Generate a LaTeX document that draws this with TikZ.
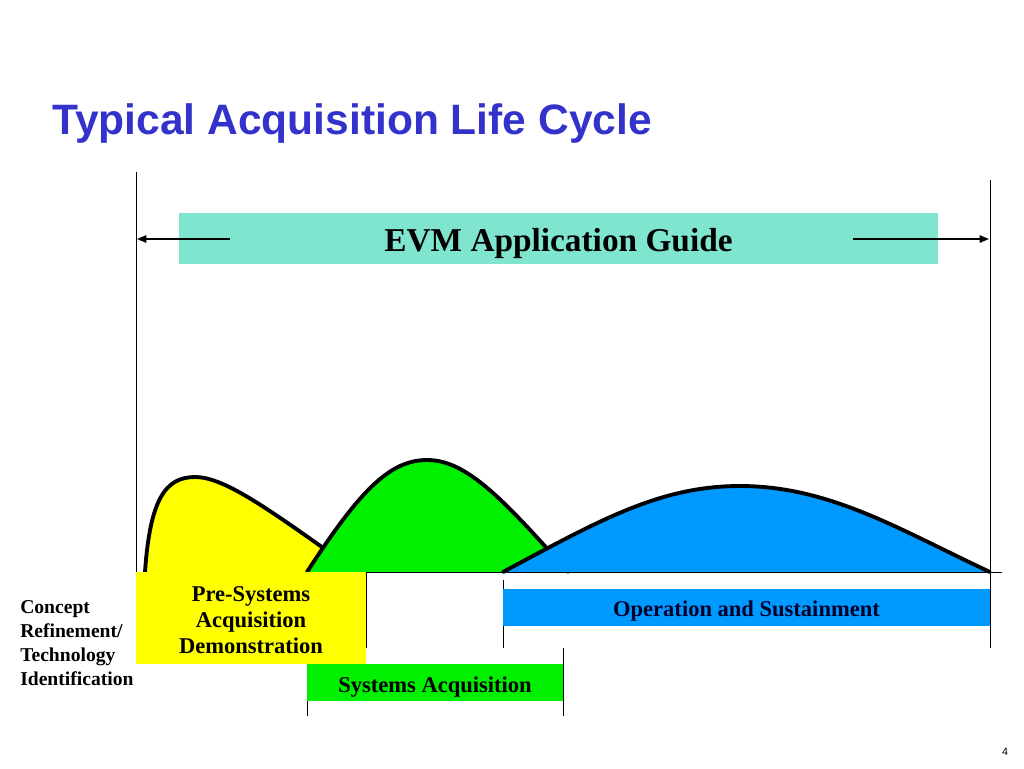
\documentclass[tikz,border=0pt]{standalone}
\usepackage{fontspec}
\setmainfont{Liberation Serif}
\newfontfamily\titlefont{Liberation Sans}
\usetikzlibrary{arrows.meta}
\definecolor{titleblue}{RGB}{51,51,204}
\definecolor{evmteal}{RGB}{128,229,207}
\definecolor{phyellow}{RGB}{255,255,0}
\definecolor{phgreen}{RGB}{0,240,0}
\definecolor{phblue}{RGB}{0,153,255}
\begin{document}
\begin{tikzpicture}[x=0.75pt,y=-0.75pt,
  hump/.style={line width=2.9pt, line join=round, line cap=round},
  rule/.style={line width=0.7pt},
  guidearrow/.style={line width=1.2pt, -{Triangle[length=7pt,width=5.5pt]}},
  boxfill/.style={inner sep=0pt},
  phasetext/.style={inner sep=0pt, font=\bfseries\fontsize{16.9}{19.5}\selectfont, align=center},
  label/.style={inner sep=0pt, font=\bfseries\fontsize{14.7}{18}\selectfont, align=left}]
\useasboundingbox (0,0) rectangle (1024,768);

% title
\node[anchor=base west, inner sep=0pt, text=titleblue, font=\titlefont\bfseries\fontsize{31.9}{36}\selectfont] (title) at (52,134) {Typical Acquisition Life Cycle};

% humps
\fill[phyellow] (145,572) .. controls (150,500) and (165,477) .. (195,477) .. controls (225,477) and (270,510) .. (357,572) -- cycle;
\draw[hump] (145,572) .. controls (150,500) and (165,477) .. (195,477) .. controls (225,477) and (270,510) .. (357,572);
\fill[phgreen] (307,572) .. controls (360,490) and (390,460) .. (427,460) .. controls (465,460) and (500,495) .. (568,572) -- cycle;
\draw[hump] (307,572) .. controls (360,490) and (390,460) .. (427,460) .. controls (465,460) and (500,495) .. (568,572);
\fill[phblue] (503,572) .. controls (600,520) and (660,486) .. (740,486) .. controls (830,486) and (900,530) .. (990,572) -- cycle;
\draw[hump] (503,572) .. controls (600,520) and (660,486) .. (740,486) .. controls (830,486) and (900,530) .. (990,572);

% axes and rules
\draw[rule] (136,172) -- (136,648);
\draw[rule] (990,180) -- (990,648);
\draw[rule] (136,572) -- (1002,572);
\draw[rule] (366,572) -- (366,648);
\draw[rule] (503,580) -- (503,648);
\draw[rule] (307,664) -- (307,716);
\draw[rule] (563,648) -- (563,716);

% EVM guide
\node[boxfill, fill=evmteal, minimum width=569.25pt, minimum height=38.25pt] (evm) at (558.5,238.5) {};
\node[anchor=base, inner sep=0pt, font=\bfseries\fontsize{25}{30}\selectfont] (evmtext) at (558.5,251) {EVM Application Guide};
\coordinate (la) at (230,239);
\coordinate (lb) at (137,239);
\coordinate (ra) at (853,239);
\coordinate (rb) at (989,239);
\draw[guidearrow] (la) -- (lb);
\draw[guidearrow] (ra) -- (rb);

% phase boxes
\node[boxfill, fill=phyellow, minimum width=172.5pt, minimum height=69pt] (pre) at (251,618) {};
\node[phasetext] (pretext) at (251,620) {Pre-Systems\\Acquisition\\Demonstration};
\node[boxfill, fill=phgreen, minimum width=192pt, minimum height=27.75pt] (sys) at (435,682.5) {};
\node[phasetext, anchor=base] (systext) at (435,692) {Systems Acquisition};
\node[boxfill, fill=phblue, minimum width=365.25pt, minimum height=27.75pt] (ops) at (746.5,607.5) {};
\node[phasetext, anchor=base, text={rgb,255:red,0;green,0;blue,40}] (opstext) at (746.5,616) {Operation and Sustainment};

% left label
\node[label, anchor=north west] (concept) at (20,600) {Concept\\Refinement/\\Technology\\Identification};

% page number
\node[inner sep=0pt, font=\titlefont\fontsize{8}{9}\selectfont] (page) at (1005,752) {4};
\end{tikzpicture}
\end{document}
